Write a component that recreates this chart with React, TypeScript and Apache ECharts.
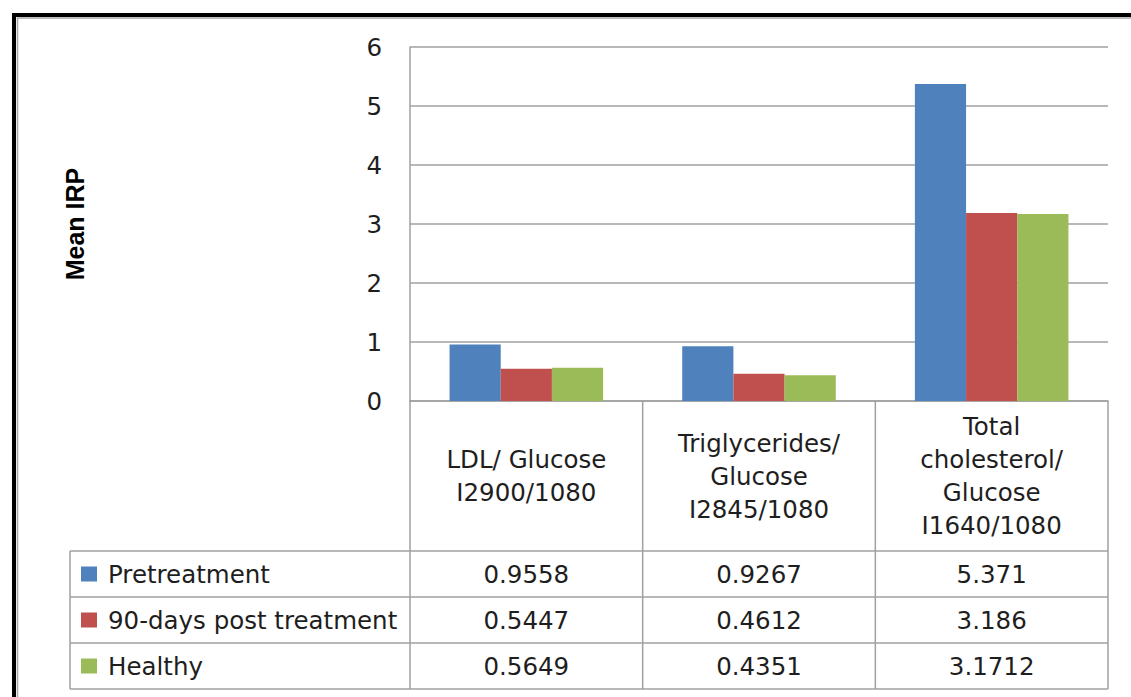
import { useEffect, useRef } from "react";
import * as echarts from "echarts";

// Category labels (x axis) and the three series shown as bars and in the data table
const categories = [
  "LDL/ Glucose\nI2900/1080",
  "Triglycerides/\nGlucose\nI2845/1080",
  "Total\ncholesterol/\nGlucose\nI1640/1080",
];
const seriesNames = ["Pretreatment", "90-days post treatment", "Healthy"];
const pretreatment = [0.9558, 0.9267, 5.371];
const postTreatment90 = [0.5447, 0.4612, 3.186];
const healthy = [0.5649, 0.4351, 3.1712];
const seriesColors = ["#4f81bd", "#c0504d", "#9bbb59"];
const yTicks = { min: 0, max: 6, interval: 1 };

// Layout
const W = 1131;
const H = 697;
const GRID_LEFT = 410;
const GRID_RIGHT = 1108;
const GRID_TOP = 47;
const GRID_BOTTOM = 401;
const TABLE_LEFT = 70;
const HEADER_BOTTOM = 551;
const ROW_H = 46;
const LINE_COLOR = "#a0a0a0";
const TEXT_COLOR = "#1e1e1e";
const FONT = "'DejaVu Sans', 'Open Sans', sans-serif";
const FONT_SIZE = 24.5;

export default function App() {
  const ref = useRef<HTMLDivElement>(null);

  useEffect(() => {
    document.body.style.margin = "0";
    if (!ref.current) return;
    const chart = echarts.init(ref.current, undefined, { renderer: "svg" });
    const allSeries = [pretreatment, postTreatment90, healthy];

    chart.setOption({
      animation: false,
      backgroundColor: "#ffffff",
      textStyle: { fontFamily: FONT },
      grid: {
        left: GRID_LEFT,
        right: W - GRID_RIGHT,
        top: GRID_TOP,
        bottom: H - GRID_BOTTOM,
        containLabel: false,
      },
      legend: {
        orient: "vertical",
        left: TABLE_LEFT + 11,
        top: HEADER_BOTTOM,
        padding: 0,
        itemGap: 0,
        itemWidth: 16,
        itemHeight: 15,
        icon: "rect",
        selectedMode: false,
        textStyle: {
          fontFamily: FONT,
          fontSize: FONT_SIZE,
          color: TEXT_COLOR,
          lineHeight: ROW_H,
          padding: [0, 0, 0, 6],
        },
        data: seriesNames,
      },
      xAxis: {
        type: "category",
        data: categories,
        axisLine: { show: true, lineStyle: { color: LINE_COLOR, width: 1.5 } },
        axisTick: { show: false },
        axisLabel: {
          interval: 0,
          margin: (HEADER_BOTTOM - GRID_BOTTOM) / 2,
          verticalAlign: "middle",
          lineHeight: 33,
          fontFamily: FONT,
          fontSize: FONT_SIZE,
          color: TEXT_COLOR,
          align: "center",
        },
      },
      yAxis: {
        type: "value",
        min: yTicks.min,
        max: yTicks.max,
        interval: yTicks.interval,
        name: "Mean IRP",
        nameLocation: "middle",
        nameRotate: 90,
        nameGap: 323,
        nameTextStyle: {
          fontFamily: "'Liberation Sans', Arial, sans-serif",
          fontWeight: "bold",
          fontSize: 25,
          color: "#000",
        },
        axisLine: { show: true, lineStyle: { color: LINE_COLOR, width: 1.5 } },
        axisTick: { show: false },
        axisLabel: {
          margin: 28,
          fontFamily: FONT,
          fontSize: FONT_SIZE,
          color: TEXT_COLOR,
        },
        splitLine: { show: true, lineStyle: { color: LINE_COLOR, width: 1.5 } },
      },
      series: allSeries.map((data, i) => ({
        name: seriesNames[i],
        type: "bar",
        data,
        barGap: "0%",
        barCategoryGap: "34%",
        itemStyle: { color: seriesColors[i] },
      })),
    });

    // Data table below the plot, positioned from the category axis
    const centers = categories.map((_, i) =>
      chart.convertToPixel({ xAxisIndex: 0 }, i) as number
    );
    const band = centers[1] - centers[0];
    const zeroY = chart.convertToPixel({ yAxisIndex: 0 }, 0) as number;
    const tableBottom = HEADER_BOTTOM + ROW_H * allSeries.length;
    const rightX = centers[centers.length - 1] + band / 2;

    const lineStyle = { stroke: LINE_COLOR, lineWidth: 1.5 };
    const elements: any[] = [];

    // Outer frame
    elements.push({
      type: "rect",
      shape: { x: 14, y: 15, width: W + 100, height: H + 100 },
      style: { fill: "none", stroke: "#000", lineWidth: 4 },
      silent: true,
    });
    elements.push({
      type: "rect",
      shape: { x: 17.5, y: 18, width: W + 100, height: H + 100 },
      style: { fill: "none", stroke: "#a8a8a8", lineWidth: 1.5 },
      silent: true,
    });

    // Horizontal table rules
    for (let r = 0; r <= allSeries.length; r++) {
      const y = HEADER_BOTTOM + r * ROW_H;
      elements.push({
        type: "line",
        shape: { x1: TABLE_LEFT, y1: y, x2: rightX, y2: y },
        style: lineStyle,
        silent: true,
      });
    }
    // Vertical rules
    elements.push({
      type: "line",
      shape: { x1: TABLE_LEFT, y1: HEADER_BOTTOM, x2: TABLE_LEFT, y2: tableBottom },
      style: lineStyle,
      silent: true,
    });
    for (let i = 0; i <= categories.length; i++) {
      const x = centers[0] - band / 2 + i * band;
      elements.push({
        type: "line",
        shape: { x1: x, y1: zeroY, x2: x, y2: tableBottom },
        style: lineStyle,
        silent: true,
      });
    }
    // Cell values
    allSeries.forEach((data, r) => {
      data.forEach((v, c) => {
        elements.push({
          type: "text",
          x: centers[c],
          y: HEADER_BOTTOM + r * ROW_H + ROW_H / 2,
          style: {
            text: String(v),
            fontFamily: FONT,
            fontSize: FONT_SIZE,
            fill: TEXT_COLOR,
            textAlign: "center",
            textVerticalAlign: "middle",
          },
          silent: true,
        });
      });
    });

    chart.setOption({ graphic: { elements } });

    return () => chart.dispose();
  }, []);

  return <div ref={ref} style={{ width: W, height: H }} />;
}
